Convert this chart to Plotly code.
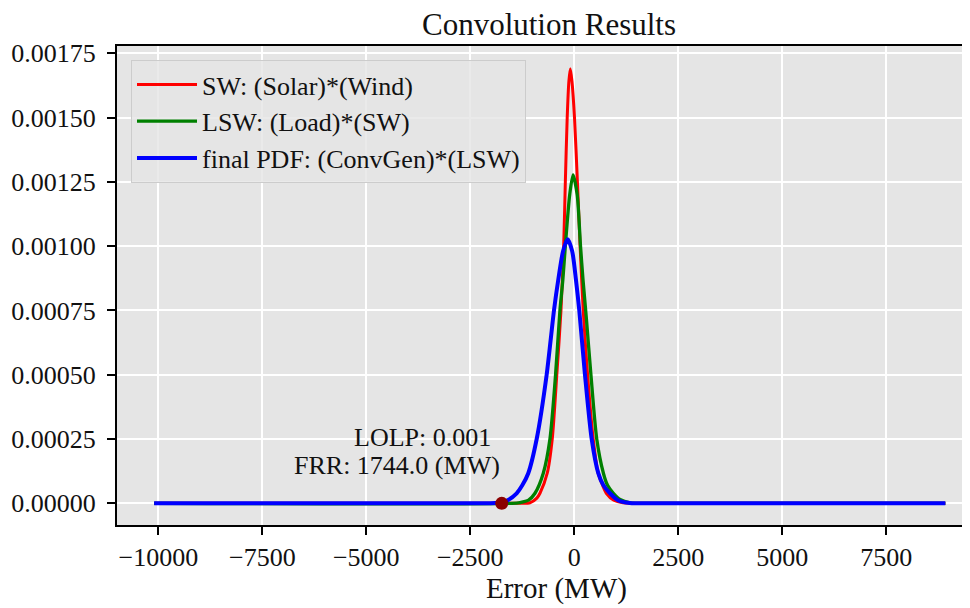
import plotly.graph_objects as go

# ---- data ----
sw_x = [-10100, -1300, -1065, -900, -825, -650, -530, -420, -320, -255, -215, -170, -130, -95, -55, 5, 75, 140, 215, 320, 455, 575, 680, 770, 950, 1171, 2000, 8920]
sw_y = [0, 0, 0.000002, 0.00002, 0.000039, 0.000117, 0.00025, 0.0005, 0.00075, 0.001, 0.00125, 0.0015, 0.00164, 0.00169, 0.00164, 0.0015, 0.00125, 0.001, 0.00075, 0.0005, 0.00025, 0.000117, 0.00007, 0.000039, 0.000012, 0.000002, 0, 0]

lsw_x = [-10100, -1500, -1305, -1100, -945, -745, -585, -450, -345, -275, -215, -110, -30, 70, 150, 210, 290, 400, 540, 700, 800, 940, 1100, 1339, 2000, 8920]
lsw_y = [0, 0, 0.000003, 0.000012, 0.000039, 0.000117, 0.00025, 0.0005, 0.00075, 0.000869, 0.001, 0.0012, 0.001277, 0.0012, 0.001, 0.000869, 0.00072, 0.0005, 0.00025, 0.000117, 0.00007, 0.000039, 0.000015, 0.000002, 0, 0]

final_x = [-10100, -2200, -1900, -1744, -1600, -1385, -1250, -1106, -904, -664, -488, -385, -270, -159, -50, 40, 120, 257, 418, 577, 700, 858, 1050, 1339, 2000, 8920]
final_y = [0, 0, 0.000001, 0.000003, 0.000012, 0.000039, 0.00007, 0.000117, 0.00025, 0.0005, 0.00075, 0.000869, 0.00098, 0.001027, 0.00098, 0.000869, 0.00075, 0.0005, 0.00025, 0.000117, 0.00007, 0.000039, 0.000012, 0.000001, 0, 0]

series_names = ["SW: (Solar)*(Wind)", "LSW: (Load)*(SW)", "final PDF: (ConvGen)*(LSW)"]
lolp = 0.001
frr = 1744.0
frr_point_x = [-frr]
frr_point_y = [0]

x_ticks = [-10000, -7500, -5000, -2500, 0, 2500, 5000, 7500]
y_ticks = [0, 0.00025, 0.0005, 0.00075, 0.001, 0.00125, 0.0015, 0.00175]

FONT = "Liberation Serif"
TXT = "#111111"

fig = go.Figure()
fig.add_trace(go.Scatter(x=sw_x, y=sw_y, mode="lines", name=series_names[0],
                         line=dict(color="#FF0000", width=3, shape="spline", smoothing=0.7)))
fig.add_trace(go.Scatter(x=lsw_x, y=lsw_y, mode="lines", name=series_names[1],
                         line=dict(color="#008000", width=3.3, shape="spline", smoothing=0.7)))
fig.add_trace(go.Scatter(x=final_x, y=final_y, mode="lines", name=series_names[2],
                         line=dict(color="#0000FF", width=4, shape="spline", smoothing=0.7)))
fig.add_trace(go.Scatter(x=frr_point_x, y=frr_point_y, mode="markers", showlegend=False,
                         marker=dict(color="#8B0000", size=13)))

# page body adds an 8px offset; figure sized to fit the window
OFF = 8
W, H = 970 - OFF, 608 - OFF
L, R, T, B = 117 - OFF, 0, 46 - OFF, H - (525 - OFF)
pw, ph = W - L - R, H - T - B

def px(sx):
    return (sx - OFF - L) / pw

def py(sy):
    return (H - B - (sy - OFF)) / ph

fig.update_layout(
    width=W, height=H,
    margin=dict(l=L, r=R, t=T, b=B, pad=0, autoexpand=False),
    paper_bgcolor="white",
    plot_bgcolor="#E5E5E5",
    font=dict(family=FONT, size=26, color=TXT),
    title=dict(text="Convolution Results", font=dict(family=FONT, size=31, color=TXT),
               x=(549 - OFF) / W, xref="container", xanchor="center",
               y=1.0, yref="container", yanchor="top", pad=dict(t=5, b=0)),
    showlegend=True,
    legend=dict(x=px(131), y=py(60), xanchor="left", yanchor="top",
                bgcolor="rgba(229,229,229,0.8)", bordercolor="#cccccc", borderwidth=1,
                font=dict(family=FONT, size=26, color=TXT),
                tracegroupgap=0, itemwidth=60),
    xaxis=dict(range=[-10993, 9513], tickvals=x_ticks, tickformat="d",
               showgrid=True, gridcolor="white", gridwidth=1.6, zeroline=False,
               showline=True, linecolor="black", linewidth=2, mirror=True,
               ticks="outside", ticklen=8, tickwidth=1.5, tickcolor="black",
               tickfont=dict(family=FONT, size=26, color=TXT)),
    yaxis=dict(range=[-0.0000844, 0.001778], tickvals=y_ticks, tickformat=".5f",
               showgrid=True, gridcolor="white", gridwidth=1.6, zeroline=False,
               showline=True, linecolor="black", linewidth=2, mirror=False,
               ticks="outside", ticklen=8, tickwidth=1.5, tickcolor="black",
               ticklabelstandoff=6,
               tickfont=dict(family=FONT, size=26, color=TXT)),
    annotations=[
        dict(text="Error (MW)", xref="paper", yref="paper", x=px(556), y=py(588),
             xanchor="center", yanchor="middle", showarrow=False,
             font=dict(family=FONT, size=29, color=TXT)),
        dict(text=f"LOLP: {lolp}", xref="paper", yref="paper", x=px(493), y=py(437),
             xanchor="right", yanchor="middle", showarrow=False,
             font=dict(family=FONT, size=26, color=TXT)),
        dict(text=f"FRR: {frr} (MW)", xref="paper", yref="paper", x=px(502), y=py(465),
             xanchor="right", yanchor="middle", showarrow=False,
             font=dict(family=FONT, size=26, color=TXT)),
    ],
)

fig.write_html("out.html")
